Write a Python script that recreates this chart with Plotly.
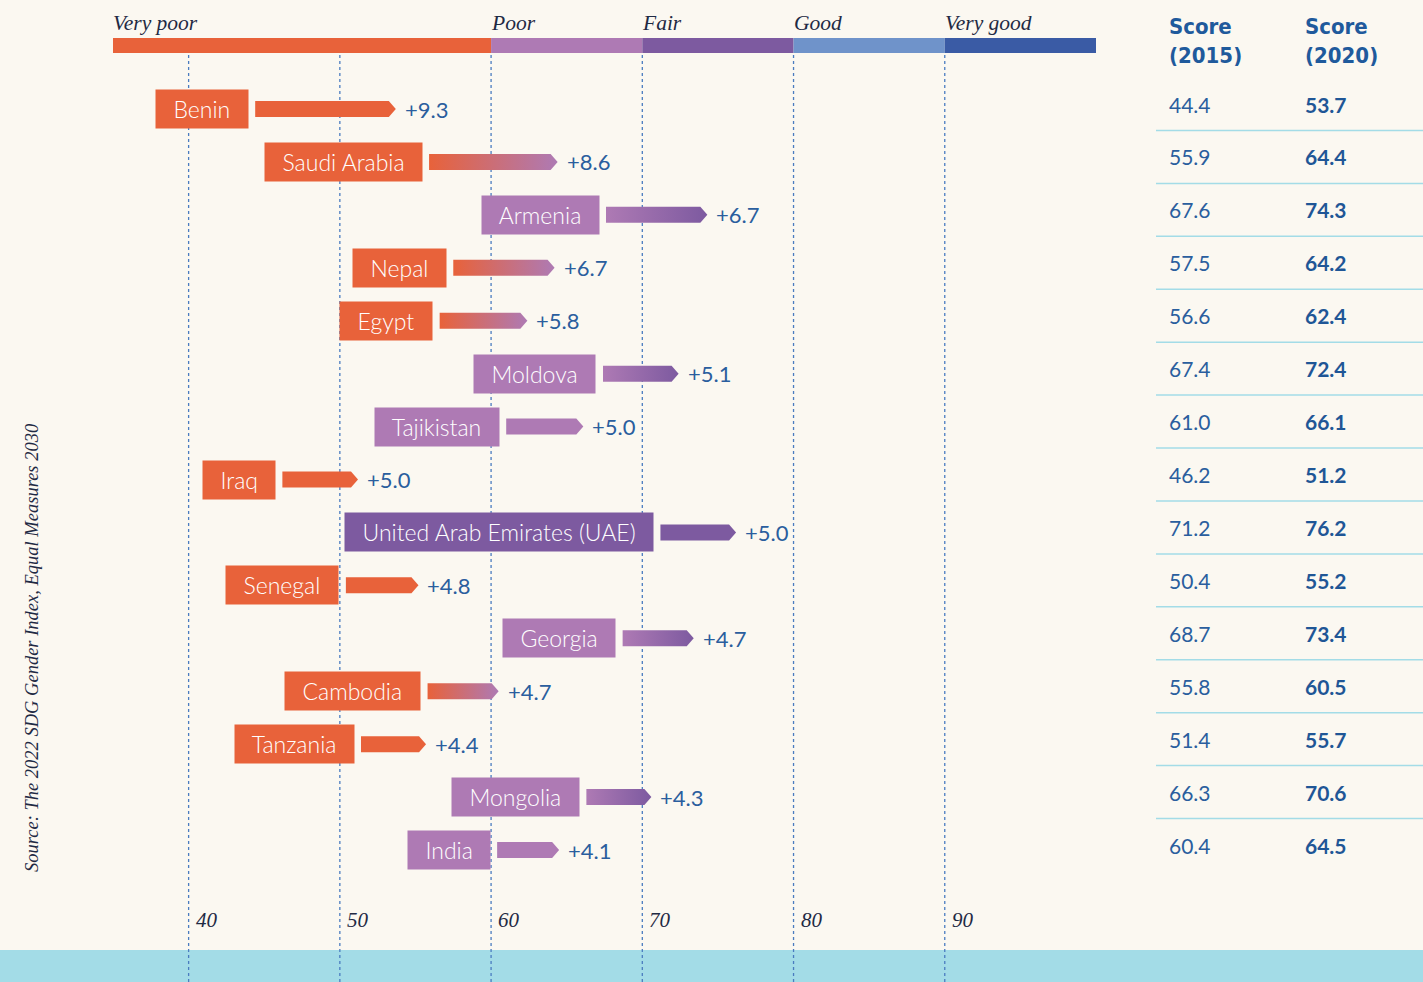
import plotly.graph_objects as go

# ---- data ----
countries = ["Benin", "Saudi Arabia", "Armenia", "Nepal", "Egypt", "Moldova", "Tajikistan",
             "Iraq", "United Arab Emirates (UAE)", "Senegal", "Georgia", "Cambodia",
             "Tanzania", "Mongolia", "India"]
score_2015 = [44.4, 55.9, 67.6, 57.5, 56.6, 67.4, 61.0, 46.2, 71.2, 50.4, 68.7, 55.8, 51.4, 66.3, 60.4]
score_2020 = [53.7, 64.4, 74.3, 64.2, 62.4, 72.4, 66.1, 51.2, 76.2, 55.2, 73.4, 60.5, 55.7, 70.6, 64.5]
changes = ["+9.3", "+8.6", "+6.7", "+6.7", "+5.8", "+5.1", "+5.0", "+5.0", "+5.0", "+4.8",
           "+4.7", "+4.7", "+4.4", "+4.3", "+4.1"]

cat_names = ["Very poor", "Poor", "Fair", "Good", "Very good"]
cat_bounds = [35, 60, 70, 80, 90, 100]
cat_colors = ["#E8623A", "#AE7AB4", "#7D5AA0", "#6F93CA", "#3A5BA5"]

tick_vals = [40, 50, 60, 70, 80, 90]
tick_labels = ["40", "50", "60", "70", "80", "90"]

source_text = "Source: The 2022 SDG Gender Index, Equal Measures 2030"
header_2015 = "Score<br>(2015)"
header_2020 = "Score<br>(2020)"

# ---- style ----
W, H = 1423, 982
BG = "#FBF8F1"
TXT_BLUE = "#2A5E9E"
DARK = "#1F2A44"
BAND = "#A3DCE7"
GRID = "#4A7CC0"
ROW_PX0, ROW_PITCH = 109.0, 52.93
SANS = "Lato, 'Open Sans', sans-serif"
SERIF = "'Liberation Serif', 'DejaVu Serif', serif"
COND = "'DejaVu Sans Condensed', 'Liberation Sans Narrow', sans-serif"

y_top = -ROW_PX0 / ROW_PITCH
y_bot = (H - ROW_PX0) / ROW_PITCH


def py(pixel):
    """pixel row -> paper coordinate"""
    return 1 - pixel / H


def cat_color(v):
    for k in range(len(cat_names)):
        if cat_bounds[k] <= v < cat_bounds[k + 1]:
            return cat_colors[k]
    return cat_colors[-1]


XPX = (1096 - 113) / (cat_bounds[-1] - cat_bounds[0])  # px per unit
tip = 7 / XPX
gap = 6.5 / XPX
half_h = 8 / ROW_PITCH

fig = go.Figure()

shapes = []
annotations = []

# bottom band
shapes.append(dict(type="rect", xref="paper", yref="paper", x0=0, x1=1, y0=0, y1=py(950),
                   fillcolor=BAND, line=dict(width=0), layer="below"))
# gridlines
for v, lab in zip(tick_vals, tick_labels):
    shapes.append(dict(type="line", xref="x", yref="paper", x0=v, x1=v, y0=0, y1=py(54),
                       line=dict(color=GRID, width=1.3, dash="dot"), layer="below"))
    annotations.append(dict(x=v, y=py(920), xref="x", yref="paper", text=lab,
                            showarrow=False, xanchor="left", yanchor="middle", xshift=5,
                            font=dict(family=SERIF, size=21, color=DARK, style="italic")))
# category bar
for k, name in enumerate(cat_names):
    shapes.append(dict(type="rect", xref="x", yref="paper", x0=cat_bounds[k], x1=cat_bounds[k + 1],
                       y0=py(53), y1=py(38), fillcolor=cat_colors[k], line=dict(width=0)))
    annotations.append(dict(x=cat_bounds[k], y=py(23), xref="x", yref="paper", text=name,
                            showarrow=False, xanchor="left", yanchor="middle", xshift=-2,
                            font=dict(family=SERIF, size=21.5, color=DARK, style="italic")))

# arrows, labels
for i, (c, s15, s20, ch) in enumerate(zip(countries, score_2015, score_2020, changes)):
    c15, c20 = cat_color(s15), cat_color(s20)
    xs = [s15, s20 - tip, s20, s20 - tip, s15, s15]
    ys = [i - half_h, i - half_h, i, i + half_h, i + half_h, i - half_h]
    tr = dict(x=xs, y=ys, mode="lines", fill="toself", line=dict(width=0),
              hoverinfo="skip", showlegend=False)
    if c15 != c20:
        tr["fillgradient"] = dict(type="horizontal", colorscale=[[0, c15], [1, c20]])
    else:
        tr["fillcolor"] = c15
    fig.add_trace(go.Scatter(**tr))

    annotations.append(dict(x=s15 - gap, y=i, xref="x", yref="y",
                            text="\u00a0\u00a0" + c + "\u00a0\u00a0", showarrow=False,
                            xanchor="right", yanchor="middle", bgcolor=c15, borderpad=5,
                            font=dict(family=SANS, size=23, color="white", weight=300)))
    annotations.append(dict(x=s20, y=i, xref="x", yref="y", text=ch, showarrow=False,
                            xanchor="left", yanchor="middle", xshift=7,
                            font=dict(family=SANS, size=22, color=TXT_BLUE, weight=400)))

    # table
    ty = i - 5 / ROW_PITCH
    annotations.append(dict(x=1167 / W, y=ty, xref="paper", yref="y", text=f"{s15:.1f}",
                            showarrow=False, xanchor="left", yanchor="middle",
                            font=dict(family=SANS, size=21, color=TXT_BLUE, weight=400)))
    annotations.append(dict(x=1303 / W, y=ty, xref="paper", yref="y", text=f"<b>{s20:.1f}</b>",
                            showarrow=False, xanchor="left", yanchor="middle",
                            font=dict(family=SANS, size=21, color="#1F5696")))
    if i < len(countries) - 1:
        ly = i + 0.5 - 5 / ROW_PITCH
        shapes.append(dict(type="line", xref="paper", yref="y", x0=1156 / W, x1=1, y0=ly, y1=ly,
                           line=dict(color=BAND, width=1.5)))

# headers
for xp, t in [(1167, header_2015), (1303, header_2020)]:
    annotations.append(dict(x=xp / W, y=py(12), xref="paper", yref="paper", text="<b>" + t + "</b>",
                            showarrow=False, xanchor="left", yanchor="top", align="left",
                            font=dict(family=COND, size=22, color="#1F5A9C")))

# source
annotations.append(dict(x=32 / W, y=py(648), xref="paper", yref="paper", text=source_text,
                        showarrow=False, textangle=-90, xanchor="center", yanchor="middle",
                        font=dict(family=SERIF, size=18.5, color=DARK, style="italic")))

fig.update_layout(
    width=W, height=H,
    margin=dict(l=0, r=0, t=0, b=0),
    paper_bgcolor=BG, plot_bgcolor=BG,
    showlegend=False,
    xaxis=dict(domain=[113 / W, 1096 / W], range=[cat_bounds[0], cat_bounds[-1]],
               showgrid=False, zeroline=False, showticklabels=False, fixedrange=True),
    yaxis=dict(domain=[0, 1], range=[y_bot, y_top], showgrid=False, zeroline=False,
               showticklabels=False, fixedrange=True),
    shapes=shapes,
    annotations=annotations,
)

fig.write_html("out.html", config={"displayModeBar": False},
               post_script="document.body.style.margin='0';document.body.style.background='" + BG + "';")
